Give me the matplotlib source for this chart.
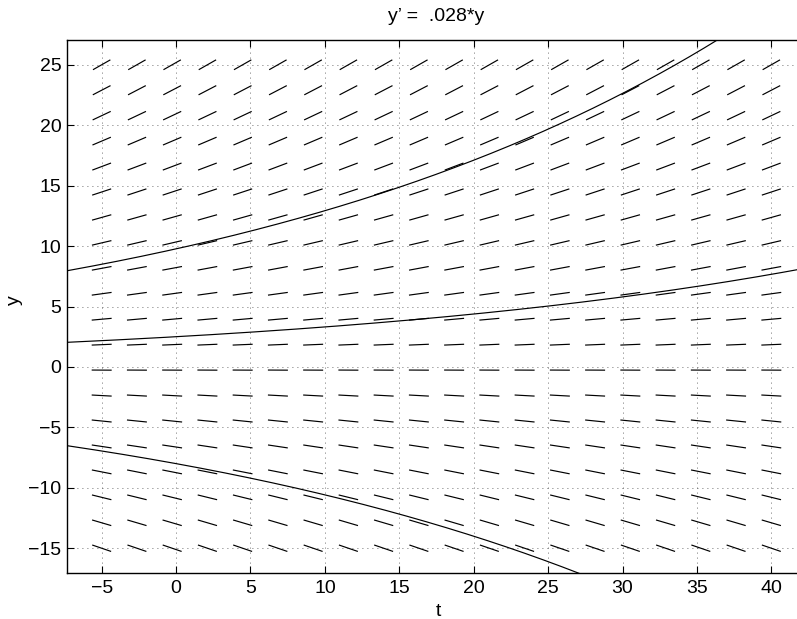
import numpy as np
import matplotlib
matplotlib.use("Agg")
import matplotlib.pyplot as plt
from matplotlib.collections import LineCollection

# ---- data ----
k = 0.028                                   # y' = k*y
t_field = np.linspace(-5, 40, 20)           # slope-field columns
y_field = np.linspace(-15, 25, 20)          # slope-field rows
curve_c = [9.77, 2.5, -8.0]                 # solution curves y = c*exp(k t)
x_ticks = [-5, 0, 5, 10, 15, 20, 25, 30, 35, 40]
y_ticks = [-15, -10, -5, 0, 5, 10, 15, 20, 25]
xlim = (-7.33, 42.33)
ylim = (-17.05, 27.05)

plt.rcParams['font.family'] = ['Liberation Sans', 'DejaVu Sans']
W, H = 797, 619
fig = plt.figure(figsize=(W / 100, H / 100), dpi=100)
left, right, top, bottom = 67, 806, 40, 573
ax = fig.add_axes([left / W, (H - bottom) / H, (right - left) / W, (bottom - top) / H])
ax.set_xlim(*xlim)
ax.set_ylim(*ylim)

# pixel scales
sx = (right - left) / (xlim[1] - xlim[0])
sy = (bottom - top) / (ylim[1] - ylim[0])
L = 10.0  # half-length of segments in pixels

segs = []
for t0 in t_field:
    for y0 in y_field:
        m = k * y0
        n = np.hypot(sx, sy * m)
        dt = L / n
        dy = m * L / n
        segs.append([(t0 - dt, y0 - dy), (t0 + dt, y0 + dy)])
ax.add_collection(LineCollection(segs, colors='black', linewidths=0.85))

tt = np.linspace(xlim[0], xlim[1], 400)
for c in curve_c:
    ax.plot(tt, c * np.exp(k * tt), color='black', lw=0.85)

ax.set_xticks(x_ticks)
ax.set_yticks(y_ticks)
ax.grid(True, color='0.25', linestyle=(0, (1, 5)), linewidth=0.6)
ax.tick_params(direction='in', length=5, width=0.8, top=True, right=True,
               labelsize=14, pad=5)
ax.tick_params(axis='y', pad=4)
for s in ax.spines.values():
    s.set_linewidth(1.0)

ax.set_title("y\u2019 =  .028*y", fontsize=14, pad=14)
ax.set_xlabel("t", fontsize=14)
ax.set_ylabel("y", fontsize=14)
ax.xaxis.set_label_coords((438 - left) / (right - left), -(612 - bottom) / (bottom - top))
ax.yaxis.set_label_coords(-(left - 14) / (right - left), (bottom - 300) / (bottom - top))
ax.xaxis.label.set_va('center')
ax.yaxis.label.set_va('center')

fig.savefig("out.png", dpi=100)
